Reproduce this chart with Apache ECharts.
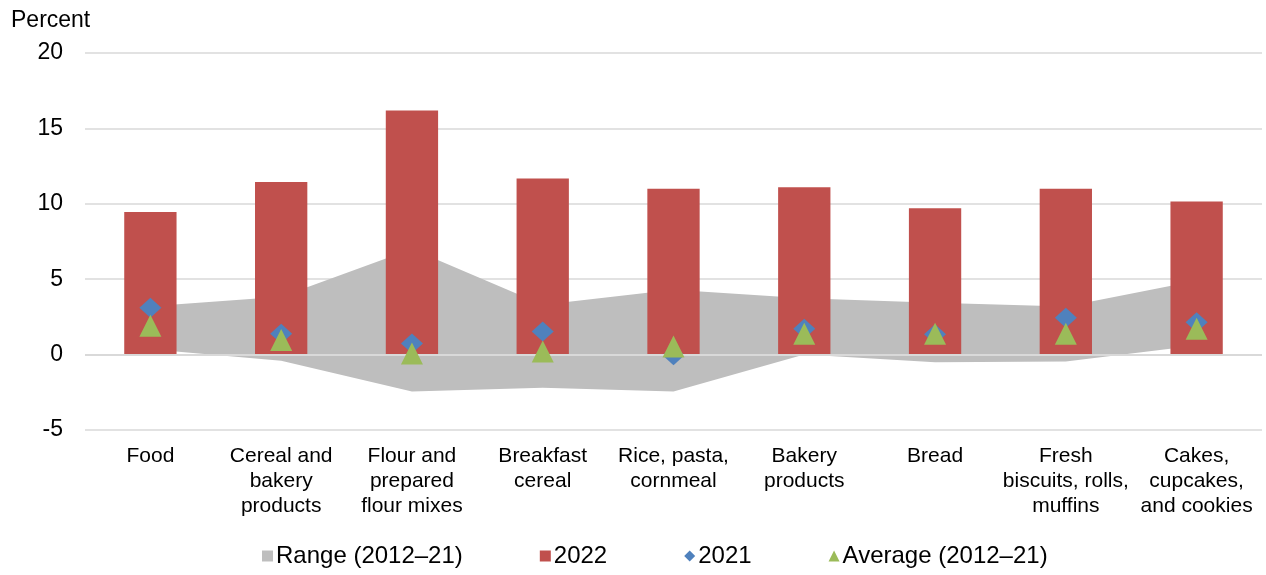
<!DOCTYPE html>
<html>
<head>
<meta charset="utf-8">
<script src="https://cdn.jsdelivr.net/npm/echarts@6/dist/echarts.min.js"></script>
<style>
  html, body { margin: 0; padding: 0; background: #ffffff; }
  #chart { width: 1266px; height: 575px; }
</style>
</head>
<body>
<div id="chart"></div>
<script>
// Cereal and bakery product price changes, percent
const categories = [
  'Food',
  'Cereal and\nbakery\nproducts',
  'Flour and\nprepared\nflour mixes',
  'Breakfast\ncereal',
  'Rice, pasta,\ncornmeal',
  'Bakery\nproducts',
  'Bread',
  'Fresh\nbiscuits, rolls,\nmuffins',
  'Cakes,\ncupcakes,\nand cookies'
];
const values2022 = [9.45, 11.44, 16.18, 11.68, 11.0, 11.1, 9.71, 11.0, 10.15];
const values2021 = [3.1, 1.39, 0.73, 1.54, -0.05, 1.72, 1.35, 2.45, 2.14];
const average2012to21 = [1.92, 0.96, 0.07, 0.2, 0.53, 1.39, 1.39, 1.39, 1.72];
const rangeLow = [0.35, -0.4, -2.45, -2.2, -2.45, 0.0, -0.5, -0.45, 0.6];
const rangeHigh = [3.2, 3.84, 7.0, 3.3, 4.3, 3.73, 3.44, 3.19, 4.9];
const yTicks = { min: -5, max: 20, interval: 5 };

// band thickness stacked on top of the lower bound
const rangeSpan = rangeHigh.map((h, i) => +(h - rangeLow[i]).toFixed(2));

const FONT = '"Liberation Sans", Arial, sans-serif';
const chart = echarts.init(document.getElementById('chart'), null, { renderer: 'canvas' });

chart.setOption({
  animation: false,
  backgroundColor: '#ffffff',
  title: {
    text: 'Percent',
    left: 6,
    top: 4,
    textStyle: { fontFamily: FONT, fontSize: 23, fontWeight: 'normal', color: '#000' }
  },
  grid: { left: 85, right: 4, top: 53, bottom: 145, containLabel: false },
  legend: {
    left: 257,
    top: 539,
    itemWidth: 11,
    itemHeight: 11,
    itemGap: 77,
    textStyle: { fontFamily: FONT, fontSize: 24, color: '#000', padding: [0, 0, 0, -2] },
    data: [
      { name: 'Range (2012–21)', icon: 'rect' },
      { name: '2022', icon: 'rect' },
      { name: '2021', icon: 'diamond' },
      { name: 'Average (2012–21)', icon: 'triangle' }
    ]
  },
  xAxis: {
    type: 'category',
    data: categories,
    axisLine: { show: false },
    axisTick: { show: false },
    axisLabel: {
      interval: 0,
      margin: 14,
      fontFamily: FONT,
      fontSize: 21,
      lineHeight: 25,
      color: '#000'
    }
  },
  yAxis: {
    type: 'value',
    min: yTicks.min,
    max: yTicks.max,
    interval: yTicks.interval,
    axisLine: { show: false },
    axisTick: { show: false },
    axisLabel: { margin: 22, fontFamily: FONT, fontSize: 23, color: '#000' },
    splitLine: { lineStyle: { color: '#D9D9D9', width: 1.5 } }
  },
  series: [
    {
      name: 'rangeLow',
      type: 'line',
      stack: 'range',
      stackStrategy: 'all',
      data: rangeLow,
      symbol: 'none',
      lineStyle: { width: 0, opacity: 0 },
      silent: true,
      z: 1
    },
    {
      name: 'Range (2012–21)',
      type: 'line',
      stack: 'range',
      stackStrategy: 'all',
      data: rangeSpan,
      symbol: 'none',
      color: '#BEBEBE',
      lineStyle: { width: 0, opacity: 0 },
      areaStyle: { color: '#BEBEBE', opacity: 1 },
      silent: true,
      z: 1
    },
    {
      name: '2022',
      type: 'bar',
      data: values2022,
      barWidth: '40%',
      color: '#C0504D',
      itemStyle: { color: '#C0504D' },
      z: 3,
      markLine: {
        silent: true,
        symbol: 'none',
        label: { show: false },
        lineStyle: { color: '#D9D9D9', width: 2, type: 'solid' },
        data: [{ yAxis: 0 }]
      }
    },
    {
      name: '2021',
      type: 'scatter',
      data: values2021,
      symbol: 'diamond',
      symbolSize: [22, 20],
      color: '#4F81BD',
      itemStyle: { color: '#4F81BD', opacity: 1 },
      z: 4
    },
    {
      name: 'Average (2012–21)',
      type: 'scatter',
      data: average2012to21,
      symbol: 'triangle',
      symbolSize: [22, 22],
      color: '#9BBB59',
      itemStyle: { color: '#9BBB59', opacity: 1 },
      z: 5
    }
  ]
});
</script>
</body>
</html>
